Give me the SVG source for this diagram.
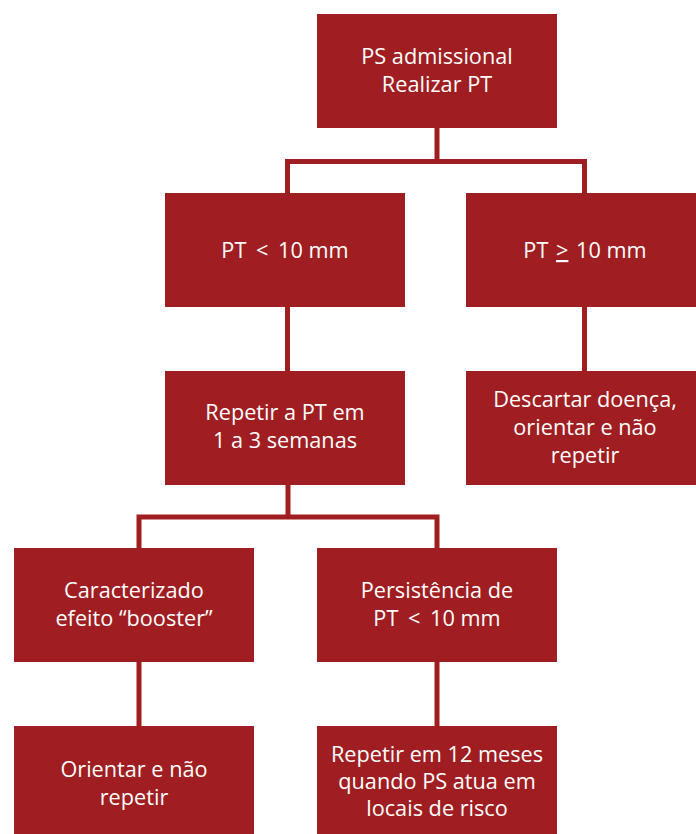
<svg xmlns="http://www.w3.org/2000/svg" width="696" height="834" viewBox="0 0 696 834">
<style>
.box{fill:#a01d21}
.t{font-family:"Open Sans","Noto Sans",sans-serif;font-size:21.7px;fill:#ffffff;text-anchor:middle}
.c{fill:none;stroke:#a01d21;stroke-width:5}
</style>
<rect width="696" height="834" fill="#ffffff"/>
<g id="connectors">
<polyline class="c" points="437,128 437,161.5"/>
<polyline class="c" points="287.5,193 287.5,161.5 584.5,161.5 584.5,193"/>
<polyline class="c" points="287.5,307 287.5,371"/>
<polyline class="c" points="584.5,307 584.5,371"/>
<polyline class="c" points="288,485 288,517"/>
<polyline class="c" points="139,548 139,517 437,517 437,548"/>
<polyline class="c" points="139,662 139,726"/>
<polyline class="c" points="437,662 437,726"/>
</g>
<g id="n1"><rect class="box" x="317" y="14" width="240" height="114"/>
<text class="t" x="437" y="64">PS admissional</text><text class="t" x="437" y="92">Realizar PT</text></g>
<g id="n2"><rect class="box" x="165" y="193" width="240" height="114"/>
<text class="t" x="285" y="258">PT <tspan dx="4">&lt;</tspan><tspan dx="4"> 10 mm</tspan></text></g>
<g id="n3"><rect class="box" x="466" y="193" width="230" height="114"/>
<text class="t" x="585" y="258">PT <tspan dx="2" style="text-decoration:underline">&gt;</tspan><tspan dx="2"> 10 mm</tspan></text></g>
<g id="n4"><rect class="box" x="165" y="371" width="240" height="114"/>
<text class="t" x="285" y="420">Repetir a PT em</text><text class="t" x="285" y="448">1 a 3 semanas</text></g>
<g id="n5"><rect class="box" x="466" y="371" width="230" height="114"/>
<text class="t" x="585" y="407">Descartar doença,</text><text class="t" x="585" y="435">orientar e não</text><text class="t" x="585" y="463">repetir</text></g>
<g id="n6"><rect class="box" x="14" y="548" width="240" height="114"/>
<text class="t" x="134" y="598">Caracterizado</text><text class="t" x="134" y="626">efeito “booster”</text></g>
<g id="n7"><rect class="box" x="317" y="548" width="240" height="114"/>
<text class="t" x="437" y="598">Persistência de</text><text class="t" x="437" y="626">PT <tspan dx="4">&lt;</tspan><tspan dx="4"> 10 mm</tspan></text></g>
<g id="n8"><rect class="box" x="14" y="726" width="240" height="108"/>
<text class="t" x="134" y="777">Orientar e não</text><text class="t" x="134" y="805">repetir</text></g>
<g id="n9"><rect class="box" x="317" y="726" width="240" height="108"/>
<text class="t" x="437" y="762">Repetir em 12 meses</text><text class="t" x="437" y="789">quando PS atua em</text><text class="t" x="437" y="816">locais de risco</text></g>
</svg>
